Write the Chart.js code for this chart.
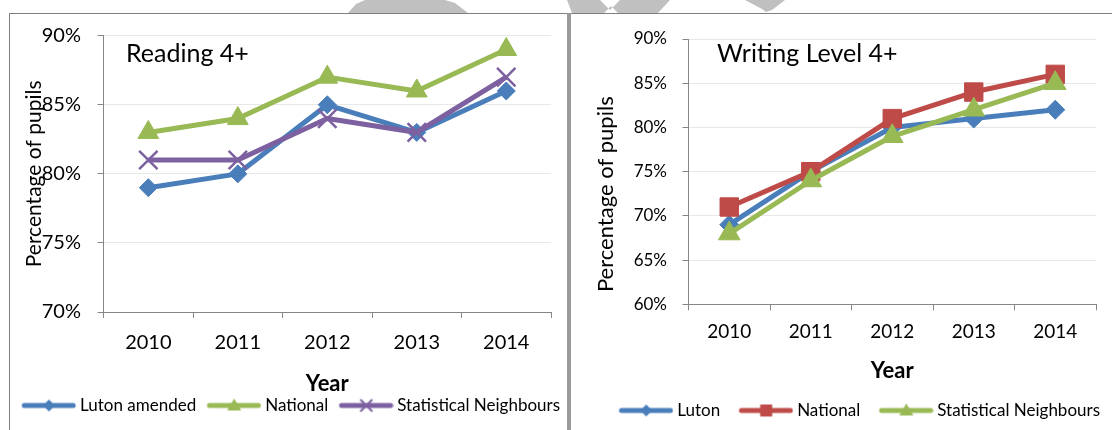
<!DOCTYPE html>
<html>
<head>
<meta charset="utf-8">
<script src="https://cdn.jsdelivr.net/npm/chart.js@4.4.1/dist/chart.umd.min.js"></script>
<style>
html,body{margin:0;padding:0;background:#fff;width:1112px;height:430px;overflow:hidden;position:relative;font-family:Lato,sans-serif;}
canvas{position:absolute;top:0;}
#c1{left:11px;}
#c2{left:570px;}
.frame-top{position:absolute;left:9px;top:13px;width:1103px;height:1px;background:#7f7f7f;}
.frame-left{position:absolute;left:9px;top:13px;width:1px;height:417px;background:#7f7f7f;}
.divider{position:absolute;left:567px;top:13px;width:4px;height:417px;background:#9a9a9a;}
.ctitle{position:absolute;font-family:Lato,sans-serif;font-size:25px;line-height:30px;color:#000;white-space:nowrap;}
</style>
</head>
<body>
<svg style="position:absolute;left:0;top:0" width="1112" height="13">
  <polygon fill="#c0c0c0" points="348,13 468,13 455,3 445,0 365,0 356,4"/>
  <polygon fill="#c0c0c0" points="567,0 600,0 610,10 620,0 670,0 658,13 618,13 611,6 604,13 572,13"/>
  <polygon fill="#c0c0c0" points="745,0 785,0 772,10 766,12 762,9"/>
</svg>
<canvas id="c1" width="590" height="424"></canvas>
<canvas id="c2" width="540" height="429"></canvas>
<div class="frame-top"></div>
<div class="frame-left"></div>
<div class="divider"></div>
<div class="ctitle" style="left:126px;top:37px;">Reading 4+</div>
<div class="ctitle" style="left:717px;top:37px;">Writing Level 4+</div>
<script>
// ---- data ----
const years = ['2010', '2011', '2012', '2013', '2014'];

const readingLabels = ['Luton amended', 'National', 'Statistical Neighbours'];
const readingLuton = [79, 80, 85, 83, 86];
const readingNational = [83, 84, 87, 86, 89];
const readingSN = [81, 81, 84, 83, 87];

const writingLabels = ['Luton', 'National', 'Statistical Neighbours'];
const writingLuton = [69, 75, 80, 81, 82];
const writingNational = [71, 75, 81, 84, 86];
const writingSN = [68, 74, 79, 82, 85];

const readingRange = [70, 90];
const writingRange = [60, 90];
const tickStep = 5;

// ---- styles ----
const BLUE = '#4A7EBB', RED = '#BE4B48', GREEN = '#98B954', PURPLE = '#7D60A0';
const AXIS = '#868686', GRID = '#e8e8e8';
const FONT = 'Lato';

function legendIcon(color, style) {
  const c = document.createElement('canvas');
  c.width = 68; c.height = 20;
  const g = c.getContext('2d');
  g.strokeStyle = color; g.fillStyle = color;
  g.lineWidth = 5; g.lineCap = 'round';
  g.beginPath(); g.moveTo(16, 10); g.lineTo(65, 10); g.stroke();
  const cx = 40.75, cy = 10;
  g.beginPath();
  if (style === 'rectRot') {
    g.moveTo(cx, cy - 6); g.lineTo(cx + 6, cy); g.lineTo(cx, cy + 6); g.lineTo(cx - 6, cy); g.closePath(); g.fill();
  } else if (style === 'rect') {
    g.fillRect(cx - 6, cy - 6, 12, 12);
  } else if (style === 'triangle') {
    g.moveTo(cx, cy - 7); g.lineTo(cx + 7, cy + 5); g.lineTo(cx - 7, cy + 5); g.closePath(); g.fill();
  } else if (style === 'crossRot') {
    g.lineWidth = 2; g.lineCap = 'butt';
    g.moveTo(cx - 6, cy - 6); g.lineTo(cx + 6, cy + 6); g.moveTo(cx + 6, cy - 6); g.lineTo(cx - 6, cy + 6); g.stroke();
  }
  return c;
}

function ds(label, data, color, style, radius, order) {
  return {
    label, data,
    borderColor: color, backgroundColor: color,
    borderWidth: 5, borderJoinStyle: 'round',
    pointStyle: style, pointRadius: radius, pointHoverRadius: radius,
    pointBackgroundColor: color, pointBorderColor: color,
    pointBorderWidth: style === 'crossRot' ? 2.5 : 1,
    tension: 0, fill: false, order
  };
}

function makeChart(id, cfg) {
  const icons = cfg.datasets.map(d => legendIcon(d.borderColor, d.pointStyle));
  return new Chart(document.getElementById(id), {
    type: 'line',
    data: { labels: years, datasets: cfg.datasets },
    options: {
      responsive: false,
      animation: false,
      events: [],
      layout: { padding: { top: cfg.top, left: 0, right: 0, bottom: 0 } },
      plugins: {
        tooltip: { enabled: false },
        legend: {
          position: 'bottom',
          align: cfg.legendAlign,
          labels: {
            usePointStyle: true,
            pointStyleWidth: 58.5,
            padding: cfg.legendPad,
            color: '#000',
            font: { family: FONT, size: 17 },
            sort: (a, b) => a.datasetIndex - b.datasetIndex,
            generateLabels(chart) {
              const items = Chart.defaults.plugins.legend.labels.generateLabels(chart);
              items.forEach(it => { it.pointStyle = icons[it.datasetIndex]; });
              return items;
            }
          }
        }
      },
      scales: {
        x: {
          type: 'category',
          offset: true,
          grid: { display: true, drawOnChartArea: false, drawTicks: true, tickLength: 6, offset: true, color: AXIS, tickColor: AXIS },
          border: { display: true, color: AXIS, width: 1 },
          ticks: { color: '#000', font: { family: FONT, size: cfg.xFont, lineHeight: 1 }, padding: cfg.xPad, maxRotation: 0, autoSkip: false },
          title: { display: true, text: 'Year', color: '#000', font: { family: FONT, size: 22, weight: 'bold', lineHeight: 1 }, padding: { top: 0, bottom: cfg.yearPad } },
          afterFit(s) { s.height = cfg.xHeight; }
        },
        y: {
          min: cfg.range[0], max: cfg.range[1],
          grid: { color: GRID, tickColor: AXIS, tickLength: 6 },
          border: { display: true, color: AXIS, width: 1 },
          ticks: { stepSize: tickStep, color: '#000', font: { family: FONT, size: cfg.yFont }, padding: cfg.yPad, callback: v => v + '%' },
          title: { display: true, text: cfg.yTitle, color: '#000', font: { family: FONT, size: cfg.yTitleFont, lineHeight: 1 }, padding: { top: cfg.yTitlePad, bottom: 0 } },
          afterFit(s) { s.width = cfg.yWidth; }
        },
        yr: {
          position: 'right', display: true,
          grid: { display: false }, border: { display: false }, ticks: { display: false },
          afterFit(s) { s.width = cfg.rightGap; }
        }
      }
    }
  });
}

makeChart('c1', {
  datasets: [
    ds(readingLabels[0], readingLuton, BLUE, 'rectRot', 9, 3),
    ds(readingLabels[1], readingNational, GREEN, 'triangle', 12, 2),
    ds(readingLabels[2], readingSN, PURPLE, 'crossRot', 13, 1)
  ],
  range: readingRange,
  top: 35.7, legendAlign: 'start', legendPad: 2,
  xFont: 20, xPad: 15, xHeight: 83, yearPad: 0,
  yFont: 20, yPad: 16.6, yWidth: 92.6,
  yTitle: 'Percentage of pupils', yTitleFont: 21, yTitlePad: 12.5,
  rightGap: 50
});

makeChart('c2', {
  datasets: [
    ds(writingLabels[0], writingLuton, BLUE, 'rectRot', 9.5, 3),
    ds(writingLabels[1], writingNational, RED, 'rect', 13, 2),
    ds(writingLabels[2], writingSN, GREEN, 'triangle', 12.5, 1)
  ],
  range: writingRange,
  top: 39, legendAlign: 'end', legendPad: 10,
  xFont: 19, xPad: 12.2, xHeight: 87.7, yearPad: 10.5,
  yFont: 17, yPad: 15.5, yWidth: 118.5,
  yTitle: 'Percentage of pupils\u00a0\u00a0\u00a0\u00a0\u00a0\u00a0\u00a0\u00a0', yTitleFont: 22, yTitlePad: 25,
  rightGap: 11.3
});
</script>
</body>
</html>
